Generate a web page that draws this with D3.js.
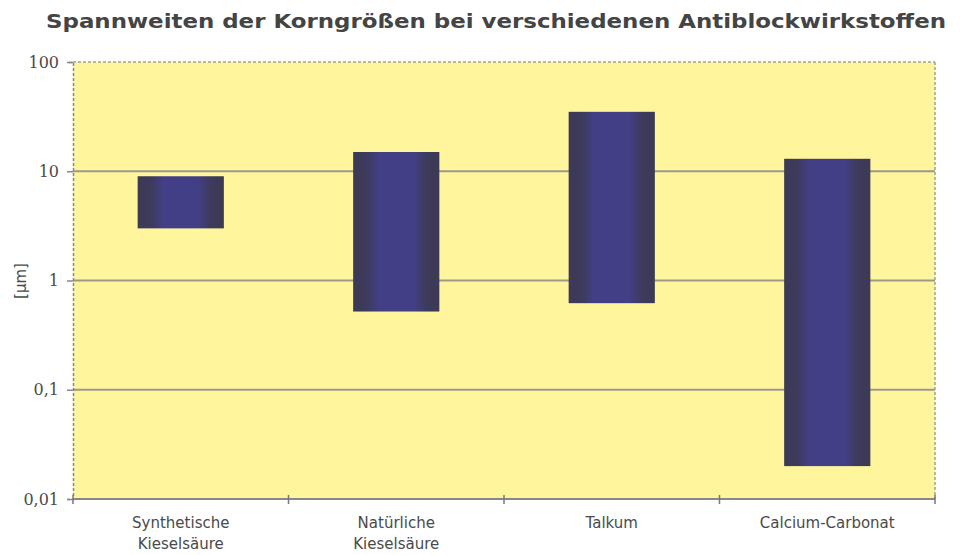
<!DOCTYPE html>
<html><head><meta charset="utf-8">
<script src="https://cdn.jsdelivr.net/npm/d3@7"></script>
<style>body{margin:0;background:#fff}</style>
</head><body>
<svg id="c" width="963" height="555"></svg>
<script>
const categories = [["Synthetische","Kieselsäure"],["Natürliche","Kieselsäure"],["Talkum"],["Calcium-Carbonat"]];
const minValues = [3, 0.52, 0.62, 0.02];
const maxValues = [9, 15, 35, 13];
const tickValues = [0.01, 0.1, 1, 10, 100];
const tickLabels = ["0,01", "0,1", "1", "10", "100"];
const titleText = "Spannweiten der Korngrößen bei verschiedenen Antiblockwirkstoffen";
const yLabel = "[µm]";

const svg = d3.select("#c");
const m = {l:73, r:935, t:62, b:499};
const x = d3.scaleBand().domain(d3.range(categories.length)).range([m.l, m.r]).paddingInner(0.6).paddingOuter(0.3);
const y = d3.scaleLog().domain([0.01, 100]).range([m.b, m.t]);

const defs = svg.append("defs");
const g = defs.append("linearGradient").attr("id","bg").attr("x1","0").attr("x2","1").attr("y1","0").attr("y2","0");
[[0,"#3d3a55"],[0.15,"#3d3a5c"],[0.3,"#433f86"],[0.7,"#433f86"],[0.85,"#3d3a5c"],[1,"#3d3a55"]].forEach(([o,c])=>g.append("stop").attr("offset",o).attr("stop-color",c));

svg.append("rect").attr("x",m.l).attr("y",m.t).attr("width",m.r-m.l).attr("height",m.b-m.t).attr("fill","#fff59c");

svg.append("g").selectAll("line").data(tickValues.filter(v=>v>0.01 && v<100)).join("line")
  .attr("x1",m.l).attr("x2",m.r).attr("y1",d=>y(d)).attr("y2",d=>y(d))
  .attr("stroke","#9a9a8a").attr("stroke-width",2);
svg.append("line").attr("x1",m.l).attr("x2",m.r).attr("y1",m.t).attr("y2",m.t).attr("stroke","#a0a0a0").attr("stroke-width",1.5).attr("stroke-dasharray","3,2");
svg.append("line").attr("x1",m.r).attr("x2",m.r).attr("y1",m.t).attr("y2",m.b).attr("stroke","#a0a0a0").attr("stroke-width",1.5).attr("stroke-dasharray","3,2");

svg.append("g").selectAll("rect").data(categories.map((c,i)=>i)).join("rect")
  .attr("x",i=>x(i)).attr("width",x.bandwidth())
  .attr("y",i=>y(maxValues[i])).attr("height",i=>y(minValues[i])-y(maxValues[i]))
  .attr("fill","url(#bg)");

const ya = d3.axisLeft(y).tickValues(tickValues).tickFormat((d,i)=>tickLabels[i]).tickSize(6).tickPadding(8);
const yg = svg.append("g").attr("transform",`translate(${m.l},0)`).call(ya);
yg.select(".domain").attr("stroke","#888").attr("stroke-width",1.5).attr("stroke-dasharray","3,2");
yg.selectAll(".tick line").attr("stroke","#888").attr("stroke-width",1.5);
yg.selectAll("text").attr("font-family","'DejaVu Serif', serif").attr("font-size",16).attr("fill","#4a4a4a");

const xa = d3.scaleLinear().domain([0,categories.length]).range([m.l,m.r]);
const xg = svg.append("g").attr("transform",`translate(0,${m.b})`);
xg.append("line").attr("x1",m.l).attr("x2",m.r).attr("stroke","#888").attr("stroke-width",2);
xg.selectAll(".t").data(d3.range(categories.length+1)).join("line").attr("class","t")
  .attr("x1",d=>xa(d)).attr("x2",d=>xa(d)).attr("y1",-4).attr("y2",5).attr("stroke","#777").attr("stroke-width",1.5);
const labs = svg.append("g").selectAll("text").data(categories.map((c,i)=>i)).join("text")
  .attr("x",i=>x(i)+x.bandwidth()/2).attr("y",528).attr("text-anchor","middle")
  .attr("font-family","'DejaVu Sans', Verdana, sans-serif").attr("font-size",15).attr("fill","#4a4a4a");
labs.each(function(i){
  const t=d3.select(this);
  categories[i].forEach((s,k)=>t.append("tspan").attr("x",x(i)+x.bandwidth()/2).attr("dy",k?21:0).text(s));
});

svg.append("text").attr("transform","translate(26,281) rotate(-90)").attr("text-anchor","middle")
  .attr("font-family","'DejaVu Sans', sans-serif").attr("font-size",15).attr("fill","#4a4a4a").text(yLabel);

svg.append("text").attr("x",496).attr("y",28).attr("text-anchor","middle")
  .attr("font-family","'DejaVu Sans Condensed', 'DejaVu Sans', sans-serif").attr("font-weight","bold").attr("font-size",20)
  .attr("fill","#444").attr("textLength",900).attr("lengthAdjust","spacingAndGlyphs").text(titleText);
</script>
</body></html>
